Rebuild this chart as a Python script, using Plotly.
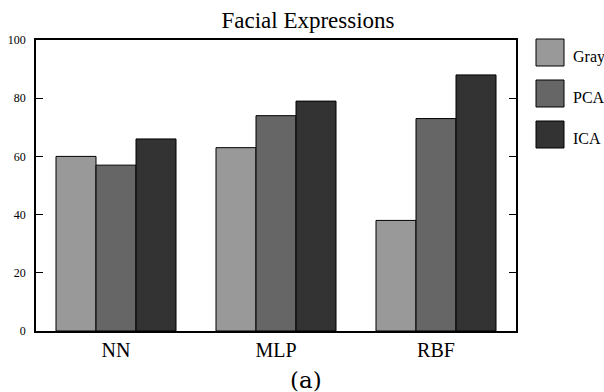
import plotly.graph_objects as go

categories = ["NN", "MLP", "RBF"]
series_names = ["Gray", "PCA", "ICA"]
gray_vals = [60, 63, 38]
pca_vals = [57, 74, 73]
ica_vals = [66, 79, 88]
colors = ["#999999", "#666666", "#333333"]
y_ticks = [0, 20, 40, 60, 80, 100]

FONT = "Liberation Serif"

fig = go.Figure()
for name, vals, col in zip(series_names, [gray_vals, pca_vals, ica_vals], colors):
    fig.add_trace(go.Bar(
        x=categories, y=vals, name=name,
        marker=dict(color=col, line=dict(color="black", width=1)),
        showlegend=False,
    ))

# custom legend with large swatches
swatch_y = [(39, 66), (80, 107), (121, 148)]
for (y0, y1), name, col in zip(swatch_y, series_names, colors):
    fig.add_shape(type="rect", xref="paper", yref="paper",
                  x0=(536 - 36) / 480, x1=(564 - 36) / 480,
                  y0=(331 - y1) / 291, y1=(331 - y0) / 291,
                  fillcolor=col, line=dict(color="black", width=1))
    fig.add_annotation(xref="paper", yref="paper",
                       x=(571 - 36) / 480, y=(331 - ((y0 + y1) / 2 + 4)) / 291,
                       text=name, showarrow=False, xanchor="left", yanchor="middle",
                       font=dict(family=FONT, size=16, color="black"))

fig.add_annotation(xref="paper", yref="paper", x=(306 - 36) / 480, y=(331 - 380) / 291,
                   text="(a)", showarrow=False, xanchor="center", yanchor="middle",
                   font=dict(family="DejaVu Serif", size=23, color="black"))

fig.update_layout(
    width=604, height=392,
    margin=dict(l=36, r=88, t=40, b=61, autoexpand=False),
    paper_bgcolor="white", plot_bgcolor="white",
    barmode="group", bargap=0.25, bargroupgap=0,
    title=dict(text="Facial Expressions", x=308 / 604, xref="container", xanchor="center",
               y=1 - 20 / 392, yref="container", yanchor="middle",
               font=dict(family=FONT, size=23, color="black")),
    font=dict(family=FONT, color="black"),
)
fig.update_xaxes(range=[-0.5, 2.5], showline=True, linecolor="black", linewidth=1.5,
                 mirror=True, ticks="", showgrid=False, automargin=False,
                 tickfont=dict(family=FONT, size=20, color="black"))
fig.update_yaxes(range=[0, 100], tickvals=y_ticks, showline=True, linecolor="black",
                 linewidth=1.5, mirror="ticks", ticks="inside", ticklen=7, tickwidth=1,
                 tickcolor="black", showgrid=False, zeroline=False, automargin=False,
                 ticklabelstandoff=6,
                 tickfont=dict(family=FONT, size=12, color="black"))

fig.write_html("out.html", config={"displayModeBar": False},
               post_script="document.body.style.margin='0';")
